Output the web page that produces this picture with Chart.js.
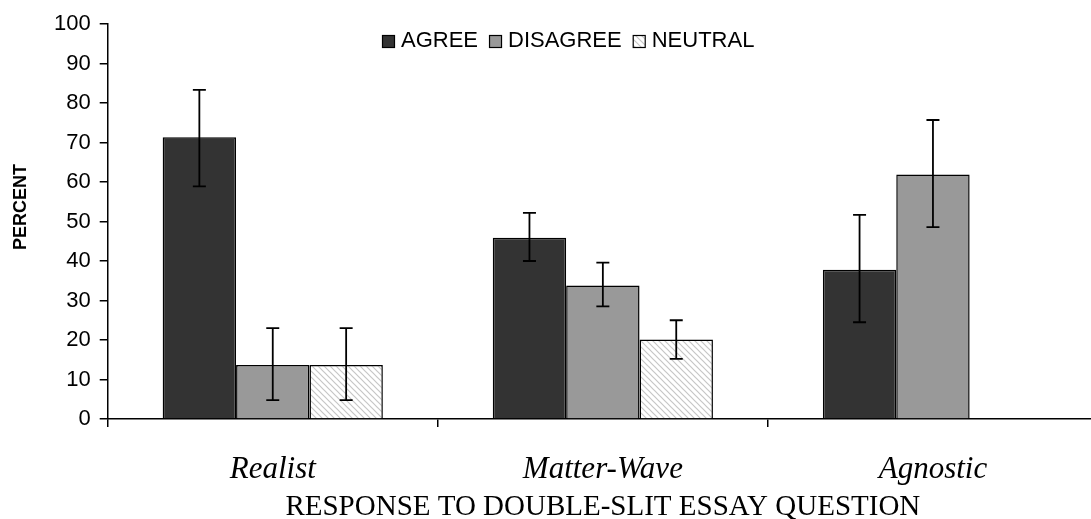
<!DOCTYPE html>
<html>
<head>
<meta charset="utf-8">
<script src="https://cdn.jsdelivr.net/npm/chart.js@4.4.0/dist/chart.umd.min.js"></script>
<style>
html, body { margin: 0; padding: 0; background: #fff; overflow: hidden; }
#wrap { width: 1099px; height: 519px; }
</style>
</head>
<body>
<div id="wrap"><canvas id="chart"></canvas></div>
<script>
// data
const categories = ['Realist', 'Matter-Wave', 'Agnostic'];
const seriesNames = ['AGREE', 'DISAGREE', 'NEUTRAL'];
const agree = [71.3, 45.9, 37.8];
const disagree = [13.7, 33.8, 61.9];
const neutral = [13.7, 20.1, 0];
// error bars as [low, high]
const agreeErr = [[58.9, 83.3], [40.0, 52.2], [24.5, 51.7]];
const disagreeErr = [[4.8, 23.0], [28.5, 39.6], [48.6, 75.7]];
const neutralErr = [[4.8, 23.0], [15.2, 25.0], null];
const yTicks = [0, 10, 20, 30, 40, 50, 60, 70, 80, 90, 100];
const yTitle = 'PERCENT';

const sans = "'Liberation Sans', Arial, sans-serif";
const serif = "'Liberation Serif', 'Times New Roman', serif";

function hatch() {
    const c = document.createElement('canvas');
    c.width = 6; c.height = 6;
    const g = c.getContext('2d');
    g.fillStyle = '#fff';
    g.fillRect(0, 0, 6, 6);
    g.strokeStyle = '#c6c6c6';
    g.lineWidth = 1.2;
    g.beginPath();
    g.moveTo(-1, -1); g.lineTo(7, 7);
    g.moveTo(-1, 5); g.lineTo(1, 7);
    g.moveTo(5, -1); g.lineTo(7, 1);
    g.stroke();
    return g.createPattern(c, 'repeat');
}
const hatchFill = hatch();

const errorBars = {
    id: 'errorBars',
    afterDatasetsDraw(chart) {
        const ctx = chart.ctx;
        const y = chart.scales.y;
        ctx.save();
        ctx.strokeStyle = '#000';
        ctx.lineWidth = 1.8;
        chart.data.datasets.forEach((ds, i) => {
            chart.getDatasetMeta(i).data.forEach((bar, j) => {
                const e = ds.errors[j];
                if (!e) return;
                const lo = y.getPixelForValue(e[0]);
                const hi = y.getPixelForValue(e[1]);
                ctx.beginPath();
                ctx.moveTo(bar.x, lo); ctx.lineTo(bar.x, hi);
                ctx.moveTo(bar.x - 6.5, lo); ctx.lineTo(bar.x + 6.5, lo);
                ctx.moveTo(bar.x - 6.5, hi); ctx.lineTo(bar.x + 6.5, hi);
                ctx.stroke();
            });
        });
        ctx.restore();
    }
};

// legend and y title drawn by hand so they sit where the original has them
const extras = {
    id: 'extras',
    afterDraw(chart) {
        const ctx = chart.ctx;
        ctx.save();
        ctx.font = '22px ' + sans;
        ctx.textBaseline = 'middle';
        let x = 382;
        const cy = 41;
        chart.data.datasets.forEach(ds => {
            ctx.fillStyle = ds.backgroundColor;
            ctx.fillRect(x, cy - 6, 12, 12);
            ctx.strokeStyle = '#000';
            ctx.lineWidth = 1.2;
            ctx.strokeRect(x + 0.5, cy - 5.5, 12, 12);
            x += 19;
            ctx.fillStyle = '#000';
            ctx.fillText(ds.label, x, cy);
            x += ctx.measureText(ds.label).width + 11;
        });

        ctx.translate(21, 207);
        ctx.rotate(-Math.PI / 2);
        ctx.font = 'bold 18px ' + sans;
        ctx.textAlign = 'center';
        ctx.fillText(yTitle, 0, 0);
        ctx.restore();
    }
};

new Chart(document.getElementById('chart'), {
    type: 'bar',
    data: {
        labels: categories,
        datasets: [
            { label: seriesNames[0], data: agree, errors: agreeErr, backgroundColor: '#333333' },
            { label: seriesNames[1], data: disagree, errors: disagreeErr, backgroundColor: '#999999' },
            { label: seriesNames[2], data: neutral, errors: neutralErr, backgroundColor: hatchFill }
        ].map(d => Object.assign(d, {
            borderColor: '#000',
            borderWidth: 1.5,
            categoryPercentage: 0.667,
            barPercentage: 1
        }))
    },
    options: {
        responsive: true,
        maintainAspectRatio: false,
        animation: false,
        layout: { padding: { left: 45, top: 24, right: 1, bottom: 0 } },
        plugins: {
            legend: { display: false },
            tooltip: { enabled: false }
        },
        scales: {
            x: {
                grid: { offset: true, drawOnChartArea: false, tickLength: 8, color: '#000', lineWidth: 1.5 },
                border: { color: '#000', width: 1.5 },
                ticks: { color: '#000', padding: 24, font: { family: serif, size: 31, style: 'italic' } },
                title: {
                    display: true,
                    text: 'RESPONSE TO DOUBLE-SLIT ESSAY QUESTION',
                    color: '#000',
                    font: { family: serif, size: 29 },
                    padding: { top: -22, bottom: -6 }
                }
            },
            y: {
                min: 0,
                max: 100,
                afterBuildTicks: s => { s.ticks = yTicks.map(v => ({ value: v })); },
                grid: { drawOnChartArea: false, tickLength: 8, color: '#000', lineWidth: 1.5 },
                border: { color: '#000', width: 1.5 },
                ticks: { color: '#000', padding: 9, font: { family: sans, size: 22 } }
            }
        }
    },
    plugins: [errorBars, extras]
});
</script>
</body>
</html>
